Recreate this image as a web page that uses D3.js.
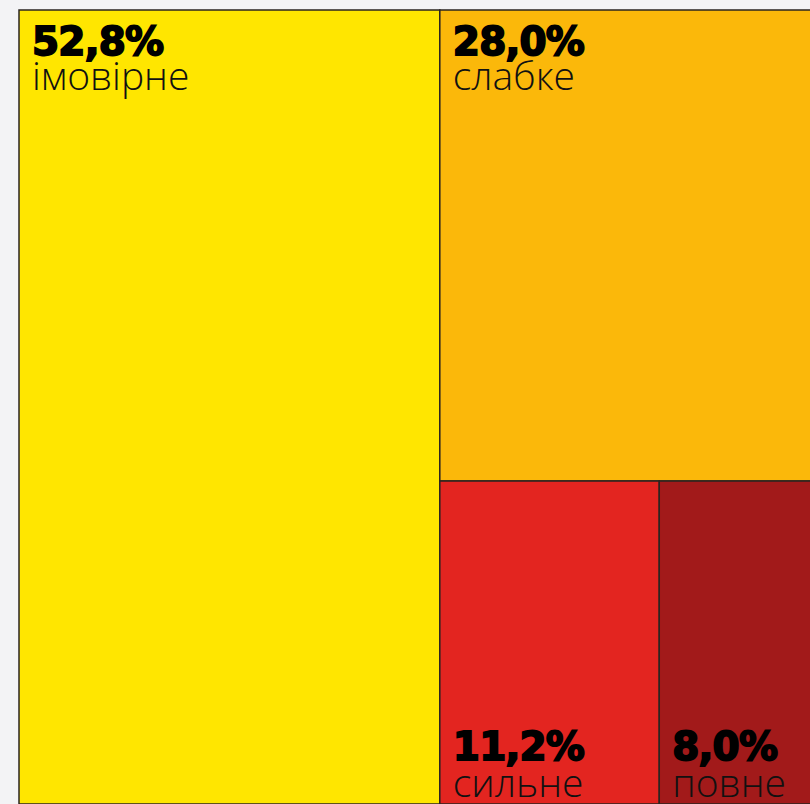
<!DOCTYPE html>
<html>
<head>
<meta charset="utf-8">
<script src="https://cdn.jsdelivr.net/npm/d3@7"></script>
<style>
  html, body { margin: 0; padding: 0; background: #f3f3f5; overflow: hidden; }
</style>
</head>
<body>
<div id="chart"></div>
<script>
// values
const categories = ["імовірне", "слабке", "сильне", "повне"];
const values = [52.8, 28.0, 11.2, 8.0];
const colors = ["#ffe600", "#fbb80a", "#e32520", "#a21a1a"];
// which cells keep their label at the bottom
const labelBottom = [false, false, true, true];

const width = 810, height = 804;
const margin = { top: 10, left: 19 };
const treeW = 797, treeH = 794;

const svg = d3.select("#chart")
  .append("svg")
  .attr("width", width)
  .attr("height", height);

const root = d3.hierarchy({
    children: categories.map((c, i) => ({ name: c, value: values[i], i: i }))
  })
  .sum(d => d.value || 0);

d3.treemap()
  .tile(d3.treemapBinary)
  .size([treeW, treeH])(root);

const g = svg.append("g")
  .attr("transform", `translate(${margin.left},${margin.top})`);

const cell = g.selectAll("g.cell")
  .data(root.leaves())
  .join("g")
  .attr("class", "cell")
  .attr("transform", d => `translate(${d.x0},${d.y0})`);

cell.append("rect")
  .attr("width", d => d.x1 - d.x0)
  .attr("height", d => d.y1 - d.y0)
  .attr("fill", d => colors[d.data.i])
  .attr("stroke", "#2a2420")
  .attr("stroke-width", 1.5);

// percentage, heavy
cell.append("text")
  .attr("x", 13)
  .attr("y", d => labelBottom[d.data.i] ? (d.y1 - d.y0) - 44 : 45)
  .style("font-family", "'DejaVu Sans', sans-serif")
  .style("font-weight", 700)
  .style("font-size", "39px")
  .style("letter-spacing", "-0.8px")
  .style("fill", "#000")
  .style("stroke", "#000")
  .style("stroke-width", 1.8)
  .text(d => d.data.value.toFixed(1).replace(".", ",") + "%");

// category name, thin
cell.append("text")
  .attr("x", 13)
  .attr("y", d => labelBottom[d.data.i] ? (d.y1 - d.y0) - 7 : 80)
  .style("font-family", "'Open Sans', sans-serif")
  .style("font-weight", 300)
  .style("font-size", "39px")
  .style("fill", "#111")
  .text(d => d.data.name);
</script>
</body>
</html>
